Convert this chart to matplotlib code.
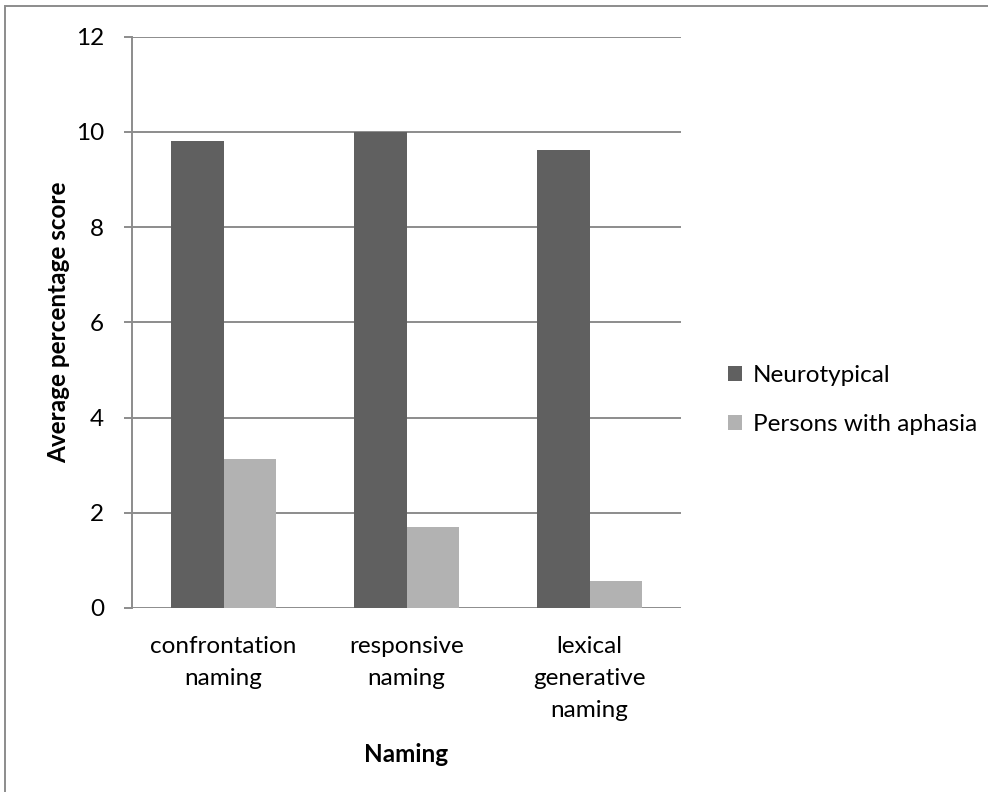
import matplotlib
matplotlib.use("Agg")
import matplotlib.pyplot as plt
import numpy as np
from matplotlib.patches import Rectangle

# Naming task scores by group
categories = ["confrontation\nnaming", "responsive\nnaming", "lexical\ngenerative\nnaming"]
neurotypical = [9.80, 10.00, 9.63]
aphasia = [3.14, 1.71, 0.56]
series_names = ["Neurotypical", "Persons with aphasia"]
y_ticks = [0, 2, 4, 6, 8, 10, 12]

DARK = "#606060"
LIGHT = "#b2b2b2"
GRID = "#8c8c8c"

plt.rcParams["font.family"] = ["Lato", "DejaVu Sans"]
FS = 17.5

W, H = 988, 792
fig = plt.figure(figsize=(W / 100, H / 100), dpi=100)
fig.patch.set_facecolor("white")

# outer chart border
fig.add_artist(Rectangle((5 / W, -0.1), 1.2, 1 - 6 / H + 0.1, transform=fig.transFigure,
                         fill=False, edgecolor=GRID, lw=1.4))

ax = fig.add_axes([132 / W, 1 - 608 / H, (681 - 132) / W, (608 - 36.7) / H])
x = np.arange(len(categories))
w = 1 / 3.5
ax.bar(x - w / 2, neurotypical, w, color=DARK, label=series_names[0], zorder=3)
ax.bar(x + w / 2, aphasia, w, color=LIGHT, label=series_names[1], zorder=3)

ax.set_xlim(-0.5, len(categories) - 0.5)
ax.set_ylim(0, 12)
ax.set_yticks(y_ticks)
ax.set_xticks(x)
ax.set_xticklabels(categories, fontsize=FS, linespacing=1.65)
ax.yaxis.grid(True, color=GRID, lw=1.4)
ax.set_axisbelow(True)

for s in ["top", "right", "bottom"]:
    ax.spines[s].set_visible(False)
ax.spines["left"].set_color(GRID)
ax.spines["left"].set_linewidth(1.4)

ax.tick_params(axis="y", length=6, width=1.4, color=GRID, pad=14, labelsize=FS)
ax.tick_params(axis="x", length=0, pad=20)

ax.set_ylabel("Average percentage score", fontsize=FS, fontweight="bold")
ax.yaxis.set_label_coords(-0.113, 0.5)
ax.set_xlabel("Naming", fontsize=FS, fontweight="bold", labelpad=16)

fig.legend(loc="center left", bbox_to_anchor=(718 / W, 1 - 400 / H), frameon=False,
           fontsize=FS, handlelength=0.6, handleheight=0.6, handletextpad=0.45,
           labelspacing=1.15, borderaxespad=0)

fig.savefig("out.png", dpi=100, facecolor="white")
